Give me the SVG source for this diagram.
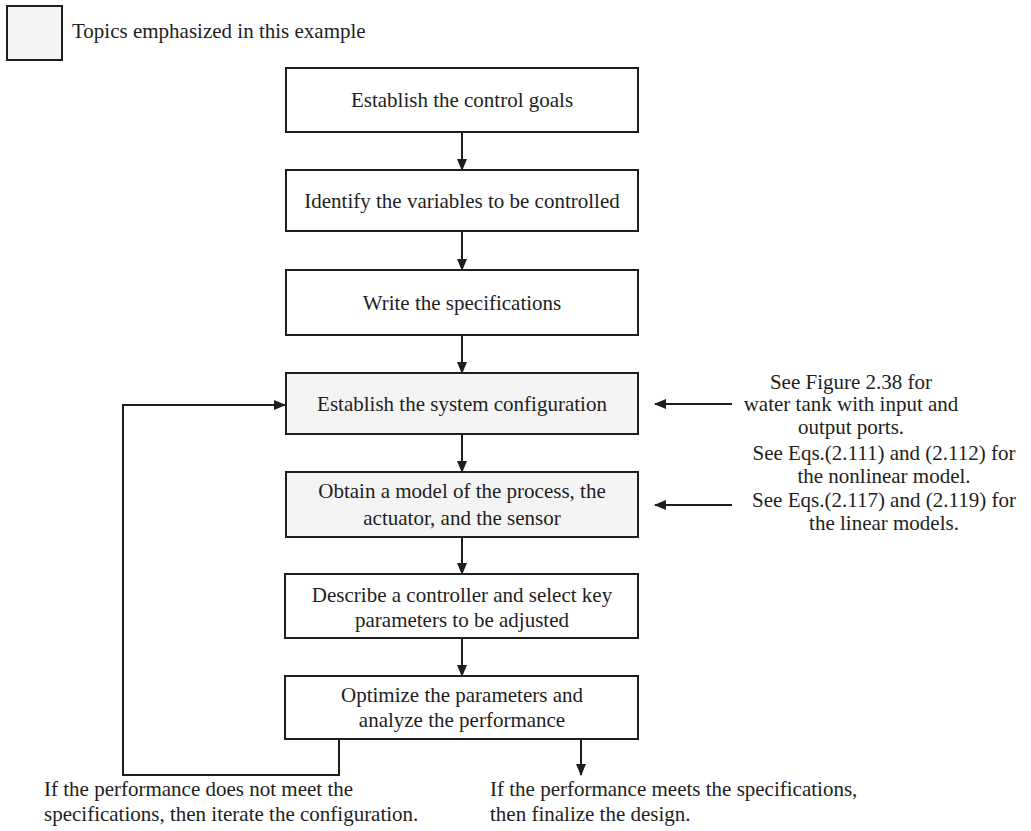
<svg xmlns="http://www.w3.org/2000/svg" width="1031" height="831" viewBox="0 0 1031 831">
<defs>
<style>
text{font-family:"Liberation Serif","Times New Roman",serif;font-size:21px;fill:#1e1e1e}
.c{text-anchor:middle}
.box{fill:#ffffff;stroke:#1e1e1e;stroke-width:2}
.emph{fill:#f4f4f4}
.ln{fill:none;stroke:#1e1e1e;stroke-width:2}
</style>
<marker id="ah" markerWidth="12" markerHeight="10" refX="11" refY="5" orient="auto" markerUnits="userSpaceOnUse">
<path d="M0,0 L12,5 L0,10 Z" fill="#1e1e1e"/>
</marker>
</defs>
<rect width="1031" height="831" fill="#ffffff"/>
<g id="legend">
<rect class="box emph" x="7" y="6" width="55" height="54"/>
<text x="72" y="38">Topics emphasized in this example</text>
</g>
<g id="n1"><rect class="box" x="286" y="68" width="352" height="64"/><text class="c" x="462" y="107">Establish the control goals</text></g>
<g id="n2"><rect class="box" x="286" y="170" width="352" height="61"/><text class="c" x="462" y="208">Identify the variables to be controlled</text></g>
<g id="n3"><rect class="box" x="286" y="270" width="352" height="65"/><text class="c" x="462" y="310">Write the specifications</text></g>
<g id="n4"><rect class="box emph" x="286" y="373" width="352" height="61"/><text class="c" x="462" y="411">Establish the system configuration</text></g>
<g id="n5"><rect class="box emph" x="286" y="472" width="352" height="65"/><text class="c" x="462" y="498">Obtain a model of the process, the</text><text class="c" x="462" y="525">actuator, and the sensor</text></g>
<g id="n6"><rect class="box" x="285" y="574" width="353" height="64"/><text class="c" x="462" y="602">Describe a controller and select key</text><text class="c" x="462" y="627">parameters to be adjusted</text></g>
<g id="n7"><rect class="box" x="285" y="676" width="353" height="63"/><text class="c" x="462" y="702">Optimize the parameters and</text><text class="c" x="462" y="727">analyze the performance</text></g>
<g id="note1">
<text class="c" x="851" y="389">See Figure 2.38 for</text>
<text class="c" x="851" y="411">water tank with input and</text>
<text class="c" x="851" y="434">output ports.</text>
</g>
<g id="note2">
<text class="c" x="884" y="460">See Eqs.(2.111) and (2.112) for</text>
<text class="c" x="884" y="483">the nonlinear model.</text>
<text class="c" x="884" y="507">See Eqs.(2.117) and (2.119) for</text>
<text class="c" x="884" y="530">the linear models.</text>
</g>
<g id="out-fail">
<text x="44" y="796">If the performance does not meet the</text>
<text x="44" y="821">specifications, then iterate the configuration.</text>
</g>
<g id="out-pass">
<text x="490" y="796">If the performance meets the specifications,</text>
<text x="490" y="821">then finalize the design.</text>
</g>
<g id="connectors">
<path class="ln" d="M462,132 V170" marker-end="url(#ah)"/>
<path class="ln" d="M462,231 V270" marker-end="url(#ah)"/>
<path class="ln" d="M462,335 V373" marker-end="url(#ah)"/>
<path class="ln" d="M462,434 V472" marker-end="url(#ah)"/>
<path class="ln" d="M462,537 V574" marker-end="url(#ah)"/>
<path class="ln" d="M462,638 V676" marker-end="url(#ah)"/>
<path class="ln" d="M339,739 V775 H123 V405 H285" marker-end="url(#ah)"/>
<path class="ln" d="M581,739 V775" marker-end="url(#ah)"/>
<path class="ln" d="M732,404 H655" marker-end="url(#ah)"/>
<path class="ln" d="M732,505 H655" marker-end="url(#ah)"/>
</g>
</svg>
